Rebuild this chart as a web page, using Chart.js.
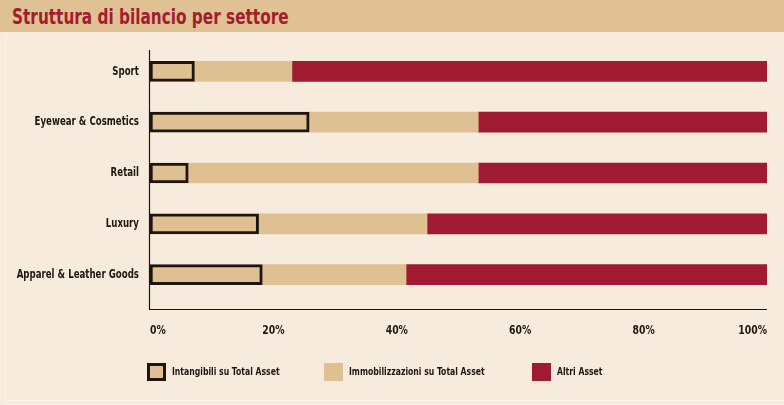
<!DOCTYPE html>
<html>
<head>
<meta charset="utf-8">
<script src="https://cdn.jsdelivr.net/npm/chart.js@4"></script>
<style>
  html, body { margin:0; padding:0; }
  body { width:784px; height:405px; background:#f7ebde; position:relative; overflow:hidden;
         font-family:"DejaVu Sans Condensed","DejaVu Sans",sans-serif; }
  #header { position:absolute; left:0; top:0; width:784px; height:32px; background:#dfc193; }
  #title { position:absolute; left:12px; top:5px; font-size:21px; font-weight:bold; color:#a31c30; white-space:nowrap;
           transform:scaleX(0.81); transform-origin:0 0; }
  #frame { position:absolute; left:5px; top:33px; width:778px; height:367px; border-left:1px solid #fbf4ec; border-bottom:1px solid #fbf4ec; }
  #wrap { position:absolute; left:0; top:0; width:784px; height:405px; }
  #legend { position:absolute; top:362px; left:0; width:784px; height:20px; }
  .li { position:absolute; top:0; height:19px; display:flex; align-items:center; font-size:11px; color:#1e1612; white-space:nowrap; }
  .sw { width:19px; height:18px; box-sizing:border-box; margin-right:6px; flex:none; }
  .lt { display:inline-block; transform:scaleX(0.78); transform-origin:0 50%; font-weight:bold; }
</style>
</head>
<body>
<div id="header"><div id="title">Struttura di bilancio per settore</div></div>
<div id="frame"></div>
<div id="wrap"><canvas id="c" width="784" height="405"></canvas></div>
<div id="legend"></div>
<script>
// ---- Data ----
const categories = ["Sport", "Eyewear & Cosmetics", "Retail", "Luxury", "Apparel & Leather Goods"];
const seriesNames = ["Intangibili su Total Asset", "Immobilizzazioni su Total Asset", "Altri Asset"];
// segment widths (% of Total Asset), stacked left to right
const intangibili = [7.2, 25.8, 6.2, 17.6, 18.2];
const immobilizzazioni = [15.8, 27.4, 47.0, 27.3, 23.3];
const altriAsset = [77.0, 46.8, 46.8, 55.1, 58.5];
const tickValues = [0, 20, 40, 60, 80, 100];

const TAN = "#dfc092", RED = "#a01b32", DARK = "#1e1510";
const FONT = "'DejaVu Sans Condensed','DejaVu Sans',sans-serif";

// axis lines + condensed tick labels drawn from the chart's own scales
const axisDecor = {
  id: "axisDecor",
  afterDatasetsDraw(chart) {
    const { ctx, chartArea: a } = chart;
    const xs = chart.scales.x, ys = chart.scales.y;
    ctx.save();
    ctx.strokeStyle = DARK;
    ctx.lineWidth = 1.2;
    ctx.beginPath();
    ctx.moveTo(a.left - 0.5, a.top + 4);
    ctx.lineTo(a.left - 0.5, a.bottom + 9.5);
    ctx.lineTo(a.right, a.bottom + 9.5);
    ctx.stroke();

    ctx.fillStyle = DARK;
    ctx.textBaseline = "middle";
    // category labels
    ctx.font = "bold 12px " + FONT;
    ctx.textAlign = "right";
    chart.data.labels.forEach((lab, i) => {
      const y = ys.getPixelForValue(i);
      ctx.save();
      ctx.translate(a.left - 11, y);
      ctx.scale(0.8, 1);
      ctx.fillText(lab, 0, 0);
      ctx.restore();
    });
    // value ticks
    ctx.font = "bold 12px " + FONT;
    tickValues.forEach((v, i) => {
      const x = xs.getPixelForValue(v);
      ctx.save();
      ctx.translate(x, a.bottom + 30.5);
      ctx.scale(0.86, 1);
      ctx.textAlign = i === 0 ? "left" : (i === tickValues.length - 1 ? "right" : "center");
      ctx.fillText(v + "%", 0, 0);
      ctx.restore();
    });
    ctx.restore();
  }
};

const chart = new Chart(document.getElementById("c"), {
  type: "bar",
  data: {
    labels: categories,
    datasets: [
      { label: seriesNames[0], data: intangibili, backgroundColor: TAN, borderColor: DARK, borderWidth: 3, borderSkipped: false },
      { label: seriesNames[1], data: immobilizzazioni, backgroundColor: TAN, borderWidth: 0 },
      { label: seriesNames[2], data: altriAsset, backgroundColor: RED, borderWidth: 0 }
    ]
  },
  options: {
    indexAxis: "y",
    responsive: false,
    animation: false,
    devicePixelRatio: 1,
    layout: { padding: { left: 0, right: 17, top: 46, bottom: 0 } },
    datasets: { bar: { barThickness: 20 } },
    plugins: { legend: { display: false }, tooltip: { enabled: false }, title: { display: false } },
    scales: {
      x: {
        stacked: true, min: 0, max: 100,
        grid: { display: false, drawTicks: false },
        border: { display: false },
        ticks: { display: false },
        afterFit(s) { s.height = 105; }
      },
      y: {
        stacked: true,
        grid: { display: false, drawTicks: false },
        border: { display: false },
        ticks: { display: false },
        afterFit(s) { s.width = 150; }
      }
    }
  },
  plugins: [axisDecor]
});

// HTML legend built from the chart datasets
const legendX = [147, 324, 532];
const leg = document.getElementById("legend");
chart.data.datasets.forEach((ds, i) => {
  const item = document.createElement("div");
  item.className = "li";
  item.style.left = legendX[i] + "px";
  const sw = document.createElement("span");
  sw.className = "sw";
  sw.style.background = ds.backgroundColor;
  if (ds.borderWidth) sw.style.border = "3px solid " + ds.borderColor;
  item.appendChild(sw);
  const t = document.createElement("span");
  t.className = "lt";
  t.textContent = ds.label;
  item.appendChild(t);
  leg.appendChild(item);
});
</script>
</body>
</html>
